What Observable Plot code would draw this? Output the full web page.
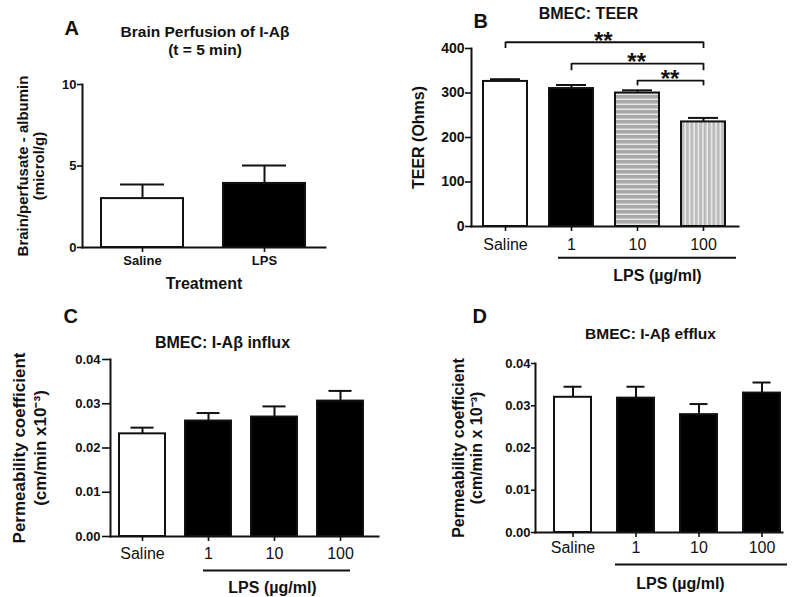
<!DOCTYPE html>
<html><head><meta charset="utf-8">
<script src="https://cdn.jsdelivr.net/npm/d3@7"></script>
<script src="https://cdn.jsdelivr.net/npm/@observablehq/plot@0.6"></script>
<style>
body{margin:0;background:#fff;}
#fig{position:relative;width:800px;height:597px;overflow:hidden;font-family:"Liberation Sans",Arial,sans-serif;}
</style></head><body>
<svg width="0" height="0" style="position:absolute">
<defs>
<pattern id="hstripes" width="8" height="5" patternUnits="userSpaceOnUse"><rect width="8" height="5" fill="#a8a8a8"/><rect y="3.6" width="8" height="1.3" fill="#f0f0f0"/></pattern>
<pattern id="vstripes" width="4.4" height="8" patternUnits="userSpaceOnUse"><rect width="4.4" height="8" fill="#bcbcbc"/><rect x="3" width="1.3" height="8" fill="#f4f4f4"/></pattern>
</defs></svg>
<div id="fig"></div>
<script>
// ---- Data ----
const aCategories = ["Saline", "LPS"];
const aMean = [3.0, 3.93];
const aSem = [0.87, 1.1];
const aFill = ["white", "black"];
const aTicks = [0, 5, 10];

const bCategories = ["Saline", "1", "10", "100"];
const bMean = [326, 310, 300, 235];
const bSem = [5, 8, 6, 9];
const bFill = ["white", "black", "url(#hstripes)", "url(#vstripes)"];
const bTicks = [0, 100, 200, 300, 400];
const bBrackets = [
  {from: "Saline", to: "100", y: 414, tip: 400, label: "**"},
  {from: "1", to: "100", y: 366, tip: 350, label: "**"},
  {from: "10", to: "100", y: 328, tip: 316, label: "**"}
];

const cCategories = ["Saline", "1", "10", "100"];
const cMean = [0.0232, 0.0261, 0.0270, 0.0306];
const cSem = [0.0014, 0.0018, 0.0024, 0.0023];
const cFill = ["white", "black", "black", "black"];

const dCategories = ["Saline", "1", "10", "100"];
const dMean = [0.0320, 0.0318, 0.0279, 0.0330];
const dSem = [0.0025, 0.0027, 0.0025, 0.0025];
const dFill = ["white", "black", "black", "black"];
const permTicks = [0, 0.01, 0.02, 0.03, 0.04];

const FONT = '"Liberation Sans", Arial, sans-serif';
const INK = "#111";

function txt(s, o) {
  return Plot.text([s], Object.assign({text: d => d, fill: INK, fontWeight: "bold", lineAnchor: "middle"}, o));
}

function panel(cfg) {
  const n = cfg.categories.length;
  const data = cfg.categories.map((c, i) => ({cat: c, mean: cfg.mean[i], sem: cfg.sem[i], fill: cfg.fill[i]}));
  const step = (cfg.width - cfg.ml - cfg.mr) / (n - cfg.pi + 2 * cfg.po);
  const marks = [
    Plot.ruleX(data, {x: "cat", y1: "mean", y2: d => d.mean + d.sem, stroke: INK, strokeWidth: 2}),
    Plot.tickY(data, {x: "cat", y: d => d.mean + d.sem, stroke: INK, strokeWidth: 2, insetLeft: cfg.capInset, insetRight: cfg.capInset}),
    Plot.barY(data, {x: "cat", y: "mean", fill: "fill", stroke: INK, strokeWidth: 2}),
    Plot.frame({anchor: "left", stroke: INK, strokeWidth: 2, strokeLinecap: "square"}),
    Plot.frame({anchor: "bottom", stroke: INK, strokeWidth: 2, strokeLinecap: "square"}),
    Plot.axisY({ticks: cfg.ticks, tickFormat: cfg.tickFormat, tickSize: cfg.yTickSize, tickPadding: cfg.yTickPadding,
      fontSize: cfg.yFont, fontWeight: "bold", strokeWidth: 1.6, stroke: INK, fill: INK, label: null}),
    Plot.axisX({tickSize: 5, tickPadding: cfg.xTickPadding, fontSize: cfg.xFont, fontWeight: cfg.xWeight,
      strokeWidth: 1.6, stroke: INK, fill: INK, label: null}),
    txt(cfg.letter, {frameAnchor: "top-left", textAnchor: "start", dx: cfg.letterPos[0], dy: cfg.letterPos[1], fontSize: 20}),
    txt(cfg.title, {frameAnchor: "top", textAnchor: "middle", dx: cfg.titlePos[0], dy: cfg.titlePos[1], fontSize: cfg.titleFont, lineHeight: 1.15}),
    txt(cfg.ylabel, {frameAnchor: "left", textAnchor: "middle", rotate: -90, dx: cfg.ylabelDx, fontSize: cfg.ylabelFont, lineHeight: cfg.ylabelLH}),
  ];
  if (cfg.xlabel) marks.push(txt(cfg.xlabel, {frameAnchor: "bottom", textAnchor: "middle", dx: cfg.xlabelPos[0], dy: cfg.xlabelPos[1], fontSize: 16}));
  if (cfg.underline) {
    marks.push(Plot.ruleY([cfg.underline], {y: "y", x1: "from", x2: "to", stroke: INK, strokeWidth: 2,
      insetLeft: cfg.underline.insetLeft, insetRight: cfg.underline.insetRight}));
  }
  if (cfg.brackets) {
    const idx = c => cfg.categories.indexOf(c);
    marks.push(Plot.link(cfg.brackets, {x1: "from", x2: "to", y1: "y", y2: "y", stroke: INK, strokeWidth: 1.8}));
    const tips = cfg.brackets.flatMap(b => [{x: b.from, y1: b.tip, y2: b.y}, {x: b.to, y1: b.tip, y2: b.y}]);
    marks.push(Plot.ruleX(tips, {x: "x", y1: "y1", y2: "y2", stroke: INK, strokeWidth: 1.8}));
    for (const b of cfg.brackets) {
      marks.push(Plot.text([b], {x: "to", y: "y", text: "label", dx: -(idx(b.to) - idx(b.from)) * step / 2, dy: -1,
        fontSize: 24, fontWeight: "bold", fill: INK, lineAnchor: "middle"}));
    }
  }
  const svg = Plot.plot({
    width: cfg.width, height: cfg.height,
    marginLeft: cfg.ml, marginRight: cfg.mr, marginTop: cfg.mt, marginBottom: cfg.mb,
    x: {type: "band", domain: cfg.categories, paddingInner: cfg.pi, paddingOuter: cfg.po, align: cfg.align},
    y: {domain: cfg.domain},
    color: {type: "identity"},
    style: {fontFamily: FONT, color: INK, background: "transparent", overflow: "visible"},
    marks
  });
  svg.style.position = "absolute";
  svg.style.left = cfg.left + "px";
  svg.style.top = cfg.top + "px";
  document.getElementById("fig").appendChild(svg);
}

// Panel A
panel({
  left: 0, top: 0, width: 400, height: 300, ml: 82, mr: 75, mt: 84, mb: 53,
  categories: aCategories, mean: aMean, sem: aSem, fill: aFill,
  pi: 0.327, po: 0.155, align: 0.5, capInset: 19,
  domain: [0, 10], ticks: aTicks, tickFormat: d3.format("d"), yTickSize: 5, yTickPadding: 1, yFont: 13,
  xTickPadding: 3, xFont: 13, xWeight: "bold",
  letter: "A", letterPos: [-18, -56],
  title: "Brain Perfusion of I-Aβ\n(t = 5 min)", titlePos: [1, -44], titleFont: 15.5,
  ylabel: "Brain/perfusate - albumin\n(microl/g)", ylabelDx: -52, ylabelFont: 15, ylabelLH: 1.1,
  xlabel: "Treatment", xlabelPos: [0, 36]
});

// Panel B
panel({
  left: 400, top: 0, width: 400, height: 300, ml: 71, mr: 62, mt: 48, mb: 74,
  categories: bCategories, mean: bMean, sem: bSem, fill: bFill,
  pi: 0.326, po: 0.162, align: 0.5, capInset: 7,
  domain: [0, 400], ticks: bTicks, tickFormat: d3.format("d"), yTickSize: 6, yTickPadding: 1, yFont: 14,
  xTickPadding: 7, xFont: 16, xWeight: "normal",
  letter: "B", letterPos: [2, -27],
  title: "BMEC: TEER", titlePos: [-16.5, -35], titleFont: 16,
  ylabel: "TEER (Ohms)", ylabelDx: -53.5, ylabelFont: 16, ylabelLH: 1.2,
  xlabel: "LPS (µg/ml)", xlabelPos: [52.5, 49],
  underline: {y: -70, from: "1", to: "100", insetLeft: 9, insetRight: -11},
  brackets: bBrackets
});

// Panel C
panel({
  left: 0, top: 300, width: 400, height: 297, ml: 110, mr: 22, mt: 59, mb: 61,
  categories: cCategories, mean: cMean, sem: cSem, fill: cFill,
  pi: 0.306, po: 0.173, align: 0.39, capInset: 11.5,
  domain: [0, 0.04], ticks: permTicks, tickFormat: d3.format(".2f"), yTickSize: 8, yTickPadding: 2, yFont: 13,
  xTickPadding: 6, xFont: 16, xWeight: "normal",
  letter: "C", letterPos: [-47, -43],
  title: "BMEC: I-Aβ influx", titlePos: [-22, -17], titleFont: 16,
  ylabel: "Permeability coefficient\n(cm/min x10⁻³)", ylabelDx: -82, ylabelFont: 17, ylabelLH: 1.24,
  xlabel: "LPS (µg/ml)", xlabelPos: [28, 51],
  underline: {y: -0.00768, from: "1", to: "100", insetLeft: 18, insetRight: 13}
});

// Panel D
panel({
  left: 400, top: 300, width: 400, height: 297, ml: 135, mr: 18, mt: 63, mb: 65,
  categories: dCategories, mean: dMean, sem: dSem, fill: dFill,
  pi: 0.415, po: 0.161, align: 0.88, capInset: 9.5,
  domain: [0, 0.04], ticks: permTicks, tickFormat: d3.format(".2f"), yTickSize: 4, yTickPadding: 1, yFont: 13,
  xTickPadding: 4, xFont: 16, xWeight: "normal",
  letter: "D", letterPos: [-63, -46.5],
  title: "BMEC: I-Aβ efflux", titlePos: [-8.5, -30], titleFont: 15.5,
  ylabel: "Permeability coefficient\n(cm/min x 10⁻³)", ylabelDx: -68.5, ylabelFont: 16, ylabelLH: 1.15,
  xlabel: "LPS (µg/ml)", xlabelPos: [21.5, 51],
  underline: {y: -0.00757, from: "1", to: "100", insetLeft: -2, insetRight: -7}
});
</script>
</body></html>
